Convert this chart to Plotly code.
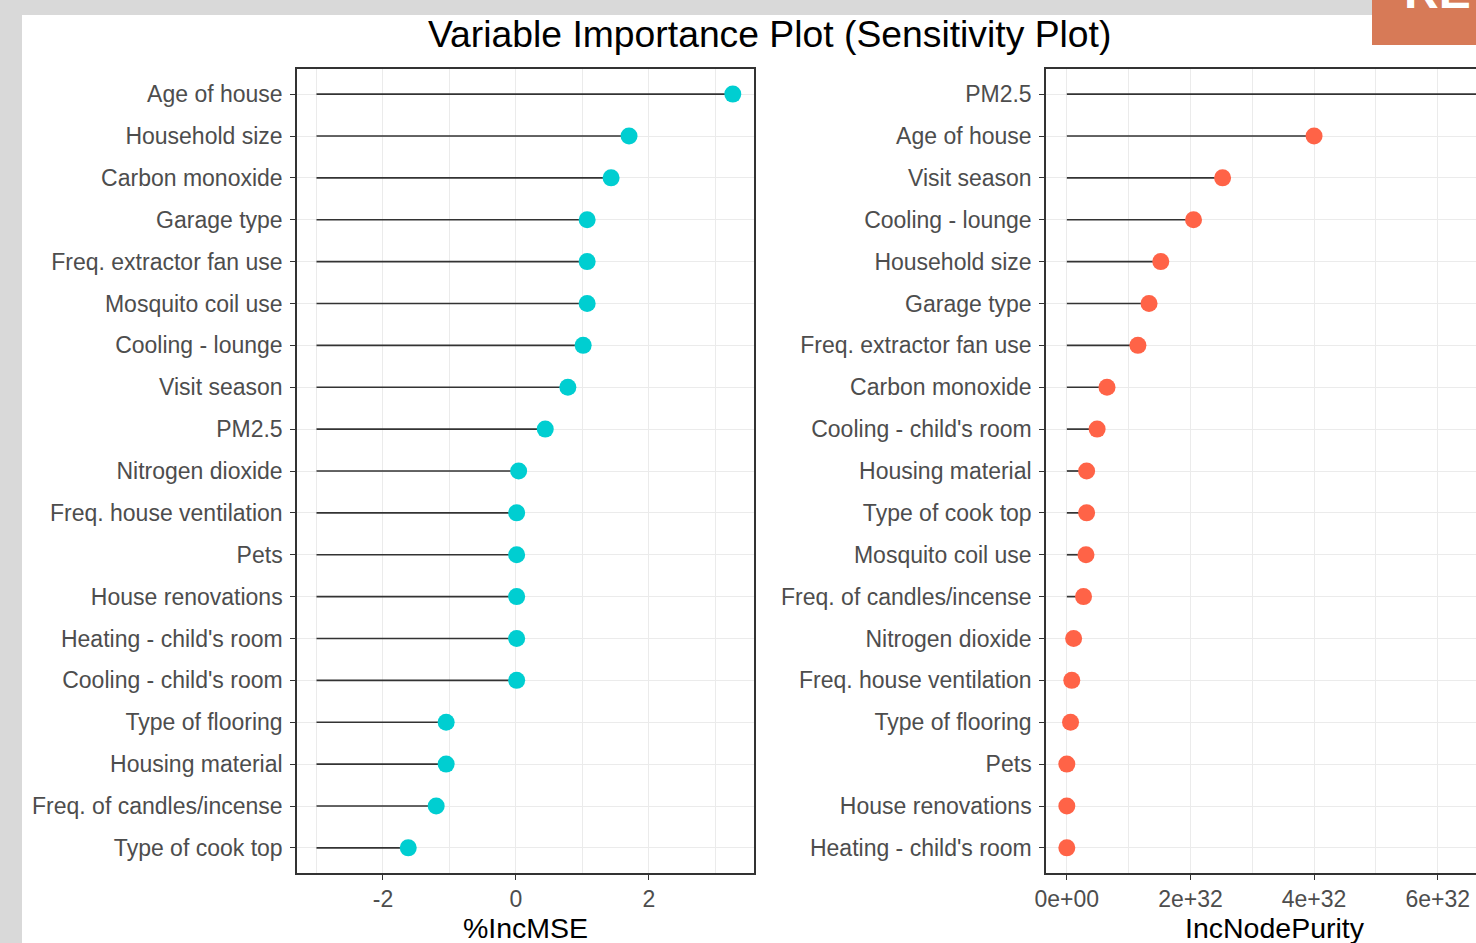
import plotly.graph_objects as go

# ---------------- data ----------------
left_vars = ["Age of house", "Household size", "Carbon monoxide", "Garage type",
             "Freq. extractor fan use", "Mosquito coil use", "Cooling - lounge",
             "Visit season", "PM2.5", "Nitrogen dioxide", "Freq. house ventilation",
             "Pets", "House renovations", "Heating - child's room",
             "Cooling - child's room", "Type of flooring", "Housing material",
             "Freq. of candles/incense", "Type of cook top"]
left_vals = [3.26, 1.70, 1.43, 1.07, 1.07, 1.07, 1.01, 0.78, 0.44, 0.04, 0.01,
             0.01, 0.01, 0.01, 0.01, -1.05, -1.05, -1.20, -1.62]
left_seg_start = -3.0
left_tickvals = [-2, 0, 2]
left_ticktext = ["-2", "0", "2"]

right_vars = ["PM2.5", "Age of house", "Visit season", "Cooling - lounge",
              "Household size", "Garage type", "Freq. extractor fan use",
              "Carbon monoxide", "Cooling - child's room", "Housing material",
              "Type of cook top", "Mosquito coil use", "Freq. of candles/incense",
              "Nitrogen dioxide", "Freq. house ventilation", "Type of flooring",
              "Pets", "House renovations", "Heating - child's room"]
right_vals = [6.8e32, 4.0e32, 2.52e32, 2.05e32, 1.52e32, 1.33e32, 1.15e32,
              0.65e32, 0.49e32, 0.32e32, 0.32e32, 0.31e32, 0.27e32, 0.11e32,
              0.08e32, 0.06e32, 0.0, 0.0, 0.0]
right_seg_start = 0.0
right_tickvals = [0, 2e32, 4e32, 6e32]
right_ticktext = ["0e+00", "2e+32", "4e+32", "6e+32"]

title_text = "Variable Importance Plot (Sensitivity Plot)"
left_xtitle = "%IncMSE"
right_xtitle = "IncNodePurity"

# ---------------- layout helpers ----------------
W, H = 1476, 943
def px(x):
    return x / W
def py(y):
    return 1 - y / H

FONT = "Liberation Sans, Arial, sans-serif"
TICKCOL = "#4D4D4D"
GRID = "#EBEBEB"
BORDER = "#333333"
SEGCOL = "#333333"

fig = go.Figure()

def seg_xy(vars_, vals, start):
    xs, ys = [], []
    for v, val in zip(vars_, vals):
        xs += [start, val, None]
        ys += [v, v, None]
    return xs, ys

lx, ly = seg_xy(left_vars, left_vals, left_seg_start)
fig.add_trace(go.Scatter(x=lx, y=ly, mode="lines", line=dict(color=SEGCOL, width=1.7),
                         xaxis="x", yaxis="y", showlegend=False, hoverinfo="skip"))
fig.add_trace(go.Scatter(x=left_vals, y=left_vars, mode="markers",
                         marker=dict(color="#00CED1", size=17, line=dict(width=0)),
                         xaxis="x", yaxis="y", showlegend=False))

rx, ry = seg_xy(right_vars, right_vals, right_seg_start)
fig.add_trace(go.Scatter(x=rx, y=ry, mode="lines", line=dict(color=SEGCOL, width=1.7),
                         xaxis="x2", yaxis="y2", showlegend=False, hoverinfo="skip"))
fig.add_trace(go.Scatter(x=right_vals, y=right_vars, mode="markers",
                         marker=dict(color="#FF6347", size=17, line=dict(width=0)),
                         xaxis="x2", yaxis="y2", showlegend=False))

n = len(left_vars)
ydom = [py(873), py(69)]

common_x = dict(showline=True, linecolor=BORDER, linewidth=1.5, mirror=True,
                ticks="outside", ticklen=5, tickwidth=1.2, tickcolor=BORDER,
                tickfont=dict(family=FONT, size=23, color=TICKCOL),
                showgrid=True, gridcolor=GRID, gridwidth=1.1, zeroline=False,
                automargin=False)
common_y = dict(type="category", showline=True, linecolor=BORDER, linewidth=1.5,
                ticks="outside", ticklen=5, tickwidth=1.2, tickcolor=BORDER,
                tickfont=dict(family=FONT, size=23, color=TICKCOL),
                ticklabelstandoff=3,
                showgrid=True, gridcolor=GRID, gridwidth=1.1, zeroline=False,
                range=[n - 1 + 0.6, -0.6], automargin=False)

fig.update_layout(
    width=W, height=H,
    margin=dict(l=0, r=0, t=0, b=0, pad=0),
    paper_bgcolor="#D9D9D9",
    plot_bgcolor="white",
    xaxis=dict(domain=[px(297), px(754)], anchor="y", range=[-3.293, 3.579],
               tickmode="array", tickvals=left_tickvals, ticktext=left_ticktext,
               minor=dict(tickmode="array", tickvals=[-3, -1, 1, 3], showgrid=True,
                          gridcolor=GRID, gridwidth=0.6, ticks=""),
               **common_x),
    yaxis=dict(domain=ydom, anchor="x", mirror=True,
               categoryorder="array", categoryarray=left_vars, **common_y),
    xaxis2=dict(domain=[px(1046), 1.0], anchor="y2", range=[-0.337e32, 6.62e32],
                tickmode="array", tickvals=right_tickvals, ticktext=right_ticktext,
                minor=dict(tickmode="array", tickvals=[1e32, 3e32, 5e32], showgrid=True,
                           gridcolor=GRID, gridwidth=0.6, ticks=""),
                **common_x),
    yaxis2=dict(domain=ydom, anchor="x2", mirror=False,
                categoryorder="array", categoryarray=right_vars, **common_y),
    shapes=[
        dict(type="rect", xref="paper", yref="paper", x0=px(22), x1=1.0, y0=0, y1=py(15),
             fillcolor="white", line=dict(width=0), layer="below"),
        dict(type="rect", xref="paper", yref="paper", x0=px(1372), x1=1.0, y0=py(45), y1=1.0,
             fillcolor="#D77A57", line=dict(width=0), layer="above"),
    ],
    annotations=[
        dict(text=title_text, xref="paper", yref="paper", x=px(769), y=py(11),
             xanchor="center", yanchor="top", showarrow=False,
             font=dict(family=FONT, size=37.3, color="black")),
        dict(text=left_xtitle, xref="paper", yref="paper", x=px(525.5), y=py(910),
             xanchor="center", yanchor="top", showarrow=False,
             font=dict(family=FONT, size=28.5, color="black")),
        dict(text=right_xtitle, xref="paper", yref="paper", x=px(1275), y=py(910),
             xanchor="center", yanchor="top", showarrow=False,
             font=dict(family=FONT, size=28.5, color="black")),
        dict(text="<b>RE</b>", xref="paper", yref="paper", x=px(1402), y=py(20),
             xanchor="left", yanchor="bottom", showarrow=False,
             font=dict(family=FONT, size=48, color="white")),
    ],
)

fig.write_html("out.html", config={"displayModeBar": False},
               post_script="document.body.style.margin='0';document.body.style.overflow='hidden';")
